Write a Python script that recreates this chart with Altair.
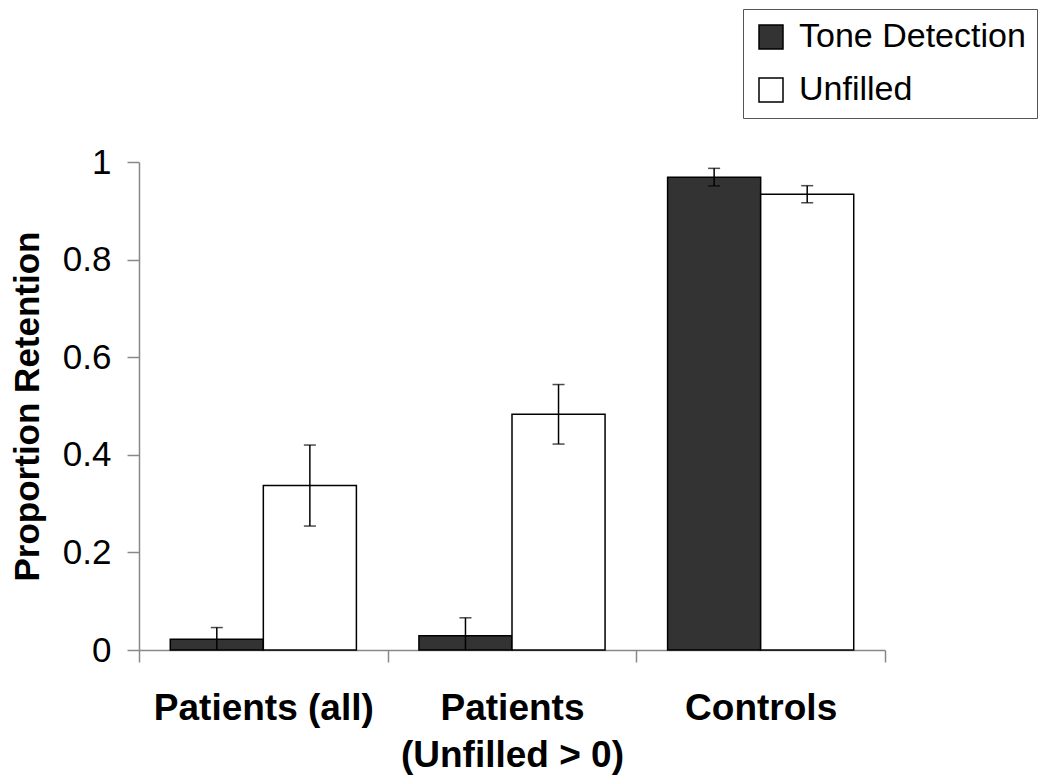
import altair as alt
import pandas as pd

groups = ["Patients (all)", "Patients\n(Unfilled > 0)", "Controls"]
conditions = ["Tone Detection", "Unfilled"]
tone_values = [0.022, 0.029, 0.969]
tone_errors = [0.024, 0.037, 0.018]
unfilled_values = [0.337, 0.483, 0.934]
unfilled_errors = [0.083, 0.061, 0.0175]
y_ticks = [0, 0.2, 0.4, 0.6, 0.8, 1.0]

rows = []
for g, v, e in zip(groups, tone_values, tone_errors):
    rows.append({"group": g, "cond": conditions[0], "value": v, "lo": v - e, "hi": v + e})
for g, v, e in zip(groups, unfilled_values, unfilled_errors):
    rows.append({"group": g, "cond": conditions[1], "value": v, "lo": v - e, "hi": v + e})
df = pd.DataFrame(rows)

FONT = "Liberation Sans"

x_enc = alt.X(
    "group:N",
    sort=groups,
    scale=alt.Scale(paddingInner=0, paddingOuter=0),
    axis=alt.Axis(
        title=None,
        labelAngle=0,
        labelFont=FONT,
        labelFontSize=37,
        labelFontWeight="bold",
        labelColor="black",
        labelLineHeight=47,
        labelPadding=28,
        labelLimit=600,
        labelExpr="split(datum.label, '\\n')",
        tickBand="extent",
        tickSize=12,
        tickColor="#888888",
        tickWidth=1.5,
        domainColor="#888888",
        domainWidth=1.5,
    ),
)
xoff_enc = alt.XOffset(
    "cond:N", sort=conditions, scale=alt.Scale(paddingInner=0, paddingOuter=0.336)
)
y_scale = alt.Scale(domain=[0, 1], nice=False)

bars = (
    alt.Chart(df)
    .mark_bar(stroke="black", strokeWidth=1.5)
    .encode(
        x=x_enc,
        xOffset=xoff_enc,
        y=alt.Y(
            "value:Q",
            scale=y_scale,
            axis=alt.Axis(
                title="Proportion Retention",
                titleFont=FONT,
                titleFontSize=35,
                titleFontWeight="bold",
                titleColor="black",
                titlePadding=17,
                values=y_ticks,
                format=".1~f",
                labelFont=FONT,
                labelFontSize=35,
                labelColor="black",
                labelPadding=16,
                tickSize=12,
                tickColor="#888888",
                tickWidth=1.5,
                domainColor="#888888",
                domainWidth=1.5,
                grid=False,
            ),
        ),
        fill=alt.Fill(
            "cond:N",
            sort=conditions,
            scale=alt.Scale(domain=conditions, range=["#333333", "#ffffff"]),
            legend=alt.Legend(
                title=None,
                orient="none",
                legendX=604,
                legendY=-153,
                labelFont=FONT,
                labelFontSize=34,
                labelColor="black",
                labelOffset=11,
                labelLimit=600,
                symbolType="square",
                symbolSize=576,
                symbolStrokeColor="black",
                symbolStrokeWidth=1.5,
                symbolOpacity=1,
                padding=11,
                rowPadding=19,
                strokeColor="#555555",
                fillColor="white",
            ),
        ),
    )
)

err_rule = (
    alt.Chart(df)
    .mark_rule(color="black", strokeWidth=1.5, clip=True)
    .encode(x=x_enc, xOffset=xoff_enc, y=alt.Y("lo:Q", scale=y_scale), y2="hi:Q")
)
cap_hi = (
    alt.Chart(df)
    .mark_tick(color="black", thickness=1.5, size=12, clip=True, orient="horizontal")
    .encode(x=x_enc, xOffset=xoff_enc, y=alt.Y("hi:Q", scale=y_scale))
)
cap_lo = (
    alt.Chart(df)
    .mark_tick(color="black", thickness=1.5, size=12, clip=True, orient="horizontal")
    .encode(x=x_enc, xOffset=xoff_enc, y=alt.Y("lo:Q", scale=y_scale))
)

chart = (
    alt.layer(bars, err_rule, cap_hi, cap_lo)
    .properties(
        width=746,
        height=488,
        autosize=alt.AutoSizeParams(type="none"),
        padding={"left": 131, "top": 154, "right": 157, "bottom": 125},
        background="white",
    )
    .configure_view(strokeWidth=0)
)

chart.save("out.html", embed_options={"renderer": "svg", "actions": False})
